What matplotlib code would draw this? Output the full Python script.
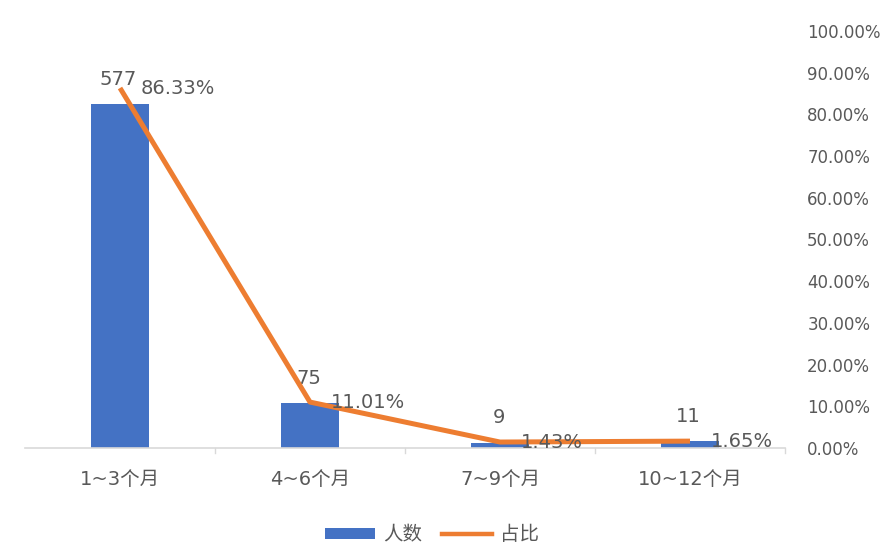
import matplotlib
matplotlib.use("Agg")
import matplotlib.pyplot as plt
from matplotlib.lines import Line2D
from matplotlib.patches import Patch

plt.rcParams['font.family'] = ['DejaVu Sans', 'Noto Sans CJK SC']

categories = ["1~3个月", "4~6个月", "7~9个月", "10~12个月"]
counts = [577, 75, 9, 11]
shares = [86.33, 11.01, 1.43, 1.65]
right_ticks = [0, 10, 20, 30, 40, 50, 60, 70, 80, 90, 100]

bar_color = "#4472C4"
line_color = "#ED7D31"
text_color = "#595959"

fig = plt.figure(figsize=(8.95, 5.47), dpi=100)
ax = fig.add_axes([25/895, 1-448/547, 760/895, 417/547])
ax2 = ax.twinx()

x = list(range(len(categories)))
ax.bar(x, counts, width=0.305, color=bar_color, zorder=2)
ax.set_xlim(-0.5, len(categories) - 0.5)
ax.set_ylim(0, 700)
ax.set_yticks([])
ax.set_xticks(x)
ax.set_xticklabels(categories, fontsize=14, color=text_color)
ax.tick_params(axis='x', length=0, pad=16)
for s in ['top', 'right', 'left']:
    ax.spines[s].set_visible(False)
ax.spines['bottom'].set_color('#d9d9d9')
ax.spines['bottom'].set_linewidth(1.2)
# category separator ticks
for b in [0.5, 1.5, 2.5, 3.5]:
    ax.plot([b, b], [0, -8], color='#d9d9d9', lw=1, clip_on=False)

ax2.plot(x, shares, color=line_color, lw=3.6, zorder=3, solid_capstyle='butt')
ax2.set_ylim(0, 100)
ax2.set_yticks(right_ticks)
ax2.set_yticklabels([f"{t:.2f}%" for t in right_ticks], fontsize=12, color=text_color)
ax2.tick_params(axis='y', length=0, pad=16)
for s in ['top', 'right', 'left', 'bottom']:
    ax2.spines[s].set_visible(False)

for xi, c in zip(x, counts):
    ax.annotate(str(c), (xi, c), xytext=(-1, 11), textcoords='offset points',
                ha='center', va='bottom', fontsize=14, color=text_color, zorder=5)
for xi, s in zip(x, shares):
    ax2.annotate(f"{s:.2f}%", (xi, s), xytext=(15, 0), textcoords='offset points',
                 ha='left', va='center', fontsize=14, color=text_color, zorder=5)

handles = [Patch(facecolor=bar_color, label="人数"),
           Line2D([0], [0], color=line_color, lw=3.2, label="占比")]
fig.legend(handles=handles, loc='center', bbox_to_anchor=(432/895, 1-535/547),
           ncol=2, frameon=False, fontsize=14, labelcolor=text_color,
           handlelength=2.6, handleheight=0.5, columnspacing=1.0, handletextpad=0.4)

fig.savefig("out.png", dpi=100, facecolor='white')
